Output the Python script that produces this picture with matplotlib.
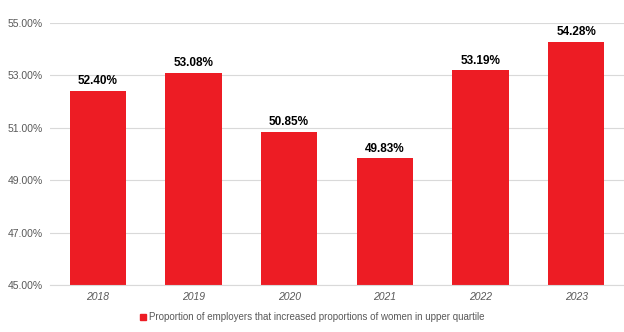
import matplotlib
matplotlib.use("Agg")
import matplotlib.pyplot as plt
from matplotlib.patches import Patch

plt.rcParams['font.family'] = ['Liberation Sans', 'DejaVu Sans']

years = ["2018", "2019", "2020", "2021", "2022", "2023"]
values = [52.40, 53.08, 50.85, 49.83, 53.19, 54.28]
yticks = [45, 47, 49, 51, 53, 55]
series_name = "Proportion of employers that increased proportions of women in upper quartile"

red = "#ED1C24"

fig = plt.figure(figsize=(6.24, 3.32), dpi=100)
ax = fig.add_axes([0.08, 0.1416, 0.92, 0.789])

x = range(len(years))
ax.bar(x, values, width=0.59, color=red, zorder=2)

for xi, v in zip(x, values):
    ax.text(xi, v + 0.15, f"{v:.2f}%", ha="center", va="bottom",
            fontsize=8.5, fontweight="bold", color="black")

ax.set_ylim(45, 55)
ax.set_xlim(-0.5, 5.5)
ax.set_yticks(yticks)
ax.set_yticklabels([f"{t:.2f}%" for t in yticks], color="#595959", fontsize=7.5)
ax.set_xticks(list(x))
ax.set_xticklabels(years, style="italic", color="#595959", fontsize=7.5)
ax.grid(axis="y", color="#d9d9d9", linewidth=0.8, zorder=0)
ax.tick_params(axis="x", length=0, pad=5)
ax.tick_params(axis="y", length=0, pad=5)
for s in ax.spines.values():
    s.set_visible(False)
ax.spines["bottom"].set_visible(True)
ax.spines["bottom"].set_color("#d9d9d9")

fig.legend(handles=[Patch(color=red)], labels=[series_name],
           loc="center", bbox_to_anchor=(0.5, 0.045), frameon=False,
           fontsize=7, handlelength=0.6, handleheight=0.6, handletextpad=0.3,
           labelcolor="#595959")

fig.savefig("out.png", dpi=100)
